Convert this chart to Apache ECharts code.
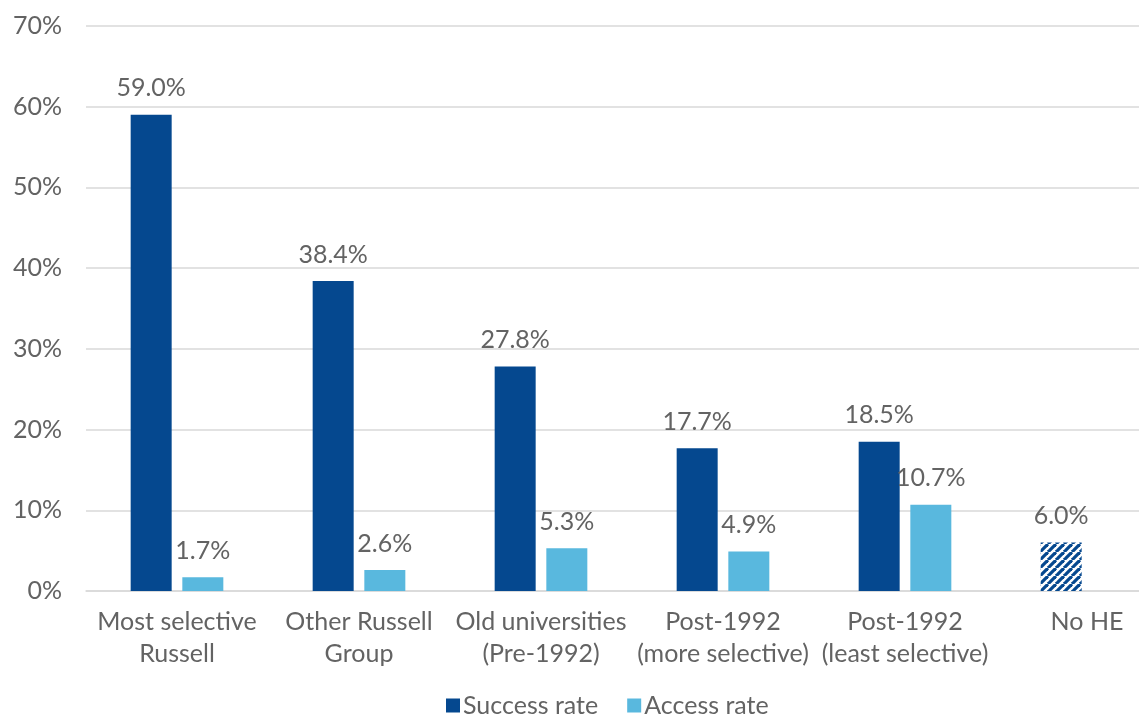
<!DOCTYPE html>
<html><head><meta charset="utf-8">
<script src="https://cdn.jsdelivr.net/npm/echarts@6/dist/echarts.min.js"></script>
<style>html,body{margin:0;padding:0;background:#fff}#c{width:1139px;height:718px}</style>
</head><body><div id="c"></div>
<script>
const categories = ["Most selective\nRussell","Other Russell\nGroup","Old universities\n(Pre-1992)","Post-1992\n(more selective)","Post-1992\n(least selective)","No HE"];
const successRate = [59.0, 38.4, 27.8, 17.7, 18.5, 6.0];
const accessRate = [1.7, 2.6, 5.3, 4.9, 10.7, null];
const yTicks = [0,10,20,30,40,50,60,70];

const DARK = '#05488F', LIGHT = '#59B8DE', TXT = '#636363', FONT = 'Lato';
const pc = document.createElement('canvas');
pc.width = 8; pc.height = 8;
const g = pc.getContext('2d');
g.fillStyle = '#fff'; g.fillRect(0,0,8,8);
g.strokeStyle = DARK; g.lineWidth = 3.2;
for (let k=-8;k<=16;k+=8){ g.beginPath(); g.moveTo(k,8); g.lineTo(k+8,0); g.stroke(); }

const sData = successRate.map((v,i)=> i===5 ? {value:v, itemStyle:{color:{image:pc, repeat:'repeat'}}} : v);
const labelCfg = {show:true, position:'top', distance:14, color:TXT, fontSize:25, fontFamily:FONT, formatter:p=>p.value==null?'':p.value.toFixed(1)+'%'};

const chart = echarts.init(document.getElementById('c'));
chart.setOption({
  animation:false,
  grid:{left:86, width:1092, top:26, bottom:127, containLabel:false, outerBoundsMode:'none'},
  legend:{bottom:-5, left:441, itemWidth:14, itemHeight:14, itemGap:29, icon:'rect',
    textStyle:{color:TXT, fontSize:25, fontFamily:FONT, padding:[0,0,0,-2]},
    data:['Success rate','Access rate']},
  xAxis:{type:'category', data:categories,
    axisLine:{lineStyle:{color:'#d9d9d9', width:1.5}}, axisTick:{show:false},
    axisLabel:{color:TXT, fontSize:25, fontFamily:FONT, lineHeight:32, margin:15, interval:0}},
  yAxis:{type:'value', min:0, max:70, interval:10,
    axisLine:{show:false}, axisTick:{show:false},
    splitLine:{lineStyle:{color:'#d9d9d9', width:1.5}},
    axisLabel:{color:TXT, fontSize:25, fontFamily:FONT, margin:24, formatter:v=>yTicks.includes(v)?v+'%':''}},
  series:[
    {name:'Success rate', type:'bar', data:sData, barWidth:41, barGap:'26%', itemStyle:{color:DARK}, label:labelCfg},
    {name:'Access rate', type:'bar', data:accessRate, barWidth:41, itemStyle:{color:LIGHT}, label:labelCfg}
  ]
});
</script></body></html>
